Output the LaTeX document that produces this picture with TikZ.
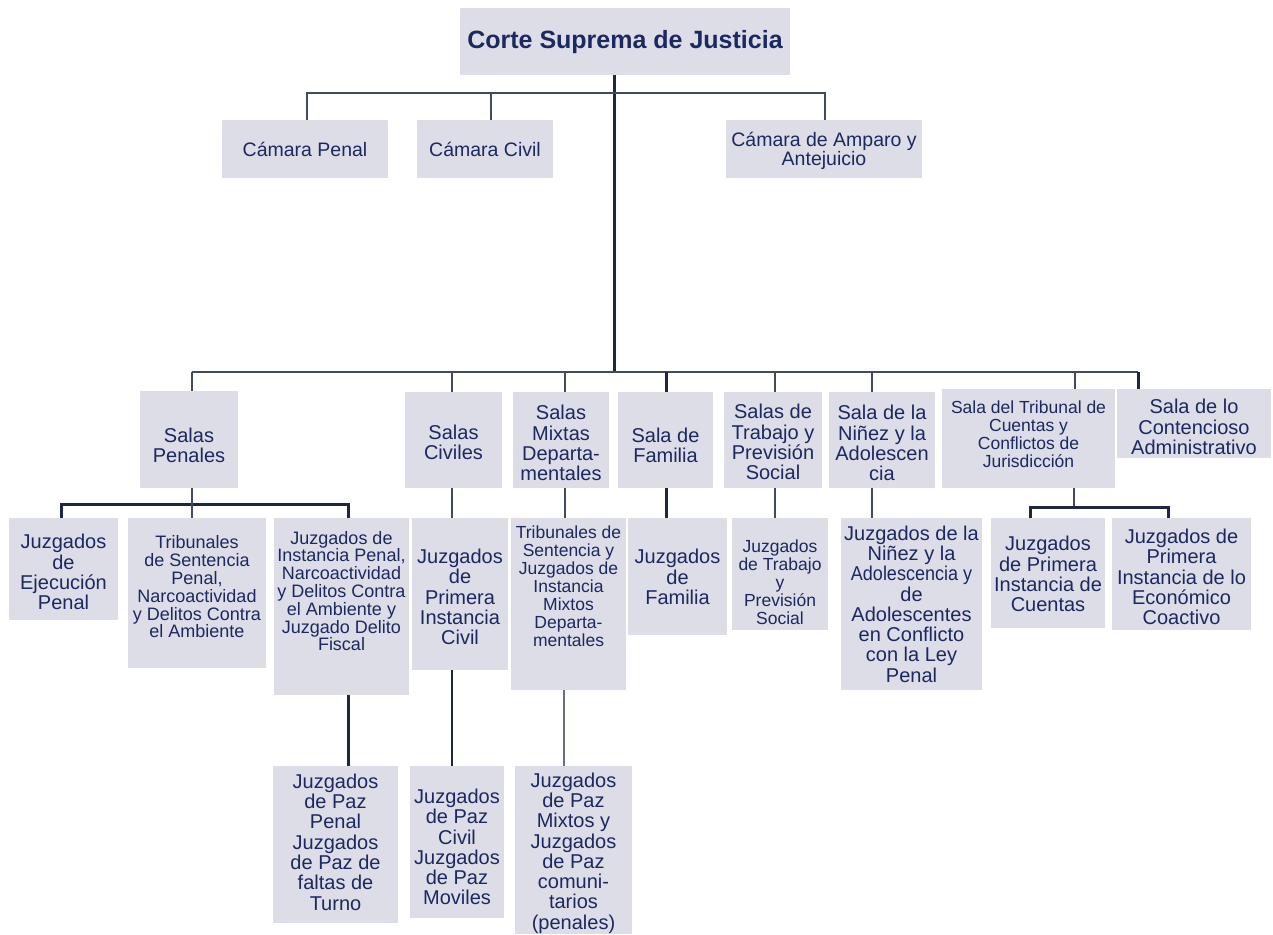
\documentclass[tikz,border=0pt]{standalone}
\usepackage{fontspec}
\setmainfont{Liberation Sans}
\usepackage{graphicx}
\definecolor{boxc}{RGB}{220,221,231}
\definecolor{txtc}{RGB}{28,40,96}
\definecolor{lnc}{RGB}{30,38,66}
\definecolor{lnl}{RGB}{66,74,98}
\newcommand\obox[8]{%
  \node[orgbox, minimum width={(#4-#2)*1pt}, minimum height={(#5-#3)*1pt}] (#1) at ({(#2+#4)/2},{(#3+#5)/2}) {};
  \node[#7] (#1-t) at ({(#2+#4)/2},#6) {#8};
}
\tikzset{
  orgbox/.style={rectangle, fill=boxc, draw=none, inner sep=0pt, outer sep=0pt},
  tx/.style={align=center, text=txtc, inner sep=0pt},
  fA/.style={tx, font=\fontsize{20}{20.3}\selectfont},
  fB/.style={tx, font=\fontsize{18}{17.8}\selectfont},
  fC/.style={tx, font=\fontsize{17.5}{18}\selectfont},
  fT/.style={tx, font=\fontsize{19.5}{19.5}\selectfont},
  fH/.style={tx, font=\bfseries\fontsize{25}{25}\selectfont},
  thn/.style={draw=lnl, line width=1.8pt},
  thk/.style={draw=lnc, line width=3pt},
}
\begin{document}
\begin{tikzpicture}[x=1pt,y=-1pt]
\useasboundingbox (0,0) rectangle (1273,934);
\fill[white] (0,0) rectangle (1273,934);

% boxes
\obox{corte}{460}{8}{790}{75}{42}{fH}{Corte Suprema de Justicia}
\obox{cpenal}{222}{120}{388}{178}{149}{fT}{Cámara Penal}
\obox{ccivil}{417}{120}{553}{178}{149}{fT}{Cámara Civil}
\obox{camparo}{726}{120}{922}{178}{151}{fT}{Cámara de Amparo y\\Antejuicio}

\obox{spen}{140}{391}{238}{488}{445}{fA}{Salas\\Penales}
\obox{sciv}{405}{392}{502}{488}{442}{fA}{Salas\\Civiles}
\obox{smix}{513}{392}{609}{488}{443}{fA}{Salas\\Mixtas\\Departa-\\mentales}
\obox{sfam}{618}{392}{713}{488}{445}{fA}{Sala de\\Familia}
\obox{strab}{724}{392}{822}{488}{442}{fA}{Salas de\\Trabajo y\\Previsión\\Social}
\obox{snin}{829}{392}{935}{488}{443}{fA}{Sala de la\\Niñez y la\\Adolescen\\cia}
\obox{strib}{942}{389}{1115}{488}{434}{fC}{Sala del Tribunal de\\Cuentas y\\Conflictos de\\Jurisdicción}
\obox{scont}{1117}{389}{1271}{458}{427}{fA}{Sala de lo\\Contencioso\\Administrativo}

\obox{jejec}{9}{518}{118}{620}{572}{fA}{Juzgados\\de\\Ejecución\\Penal}
\obox{tsent}{128}{518}{266}{668}{587}{fB}{Tribunales\\de Sentencia\\Penal,\\Narcoactividad\\y Delitos Contra\\el Ambiente}
\obox{jinst}{274}{518}{409}{695}{591}{fB}{Juzgados de\\Instancia Penal,\\Narcoactividad\\y Delitos Contra\\el Ambiente y\\Juzgado Delito\\Fiscal}
\obox{jpic}{412}{518}{508}{670}{597}{fA}{Juzgados\\de\\Primera\\Instancia\\Civil}
\obox{tsmix}{511}{518}{626}{690}{586}{fC}{Tribunales de\\Sentencia y\\Juzgados de\\Instancia\\Mixtos\\Departa-\\mentales}
\obox{jfam}{628}{518}{727}{635}{577}{fA}{Juzgados\\de\\Familia}
\obox{jtrab}{732}{518}{828}{630}{582}{fC}{Juzgados\\de Trabajo\\y\\Previsión\\Social}
\obox{jnin}{841}{518}{982}{690}{604}{fA}{Juzgados de la\\Niñez y la\\\scalebox{0.9}[1]{Adolescencia y}\\de\\Adolescentes\\en Conflicto\\con la Ley\\Penal}
\obox{jcuen}{991}{518}{1105}{628}{574}{fA}{Juzgados\\de Primera\\Instancia de\\Cuentas}
\obox{jecon}{1112}{518}{1251}{630}{577}{fA}{Juzgados de\\Primera\\Instancia de lo\\Económico\\Coactivo}

\obox{jpazp}{273}{766}{398}{923}{842}{fA}{Juzgados\\de Paz\\Penal\\Juzgados\\de Paz de\\faltas de\\Turno}
\obox{jpazc}{410}{766}{504}{918}{847}{fA}{Juzgados\\de Paz\\Civil\\Juzgados\\de Paz\\Moviles}
\obox{jpazm}{515}{766}{632}{934}{853}{fA}{Juzgados\\de Paz\\Mixtos y\\Juzgados\\de Paz\\comuni-\\tarios\\(penales)}

% hub coordinates
\coordinate (top) at (614,93);
\coordinate (hub) at (614,372);

% top level
\draw[thk] (top |- corte.south) -- (hub);
\draw[thn] ([xshift=2pt]cpenal.north) -- ++(0,-27) -| ([xshift=1pt]camparo.north);
\draw[thn] ([xshift=6pt]ccivil.north) -- ++(0,-27);

% main bar
\coordinate (d1) at (192,372);
\coordinate (d2) at (452,372);
\coordinate (d3) at (565,372);
\coordinate (d4) at (666,372);
\coordinate (d5) at (775,372);
\coordinate (d6) at (872,372);
\coordinate (d7) at (1075,372);
\coordinate (d8) at (1138,372);
\draw[thn] (d1) -- (d8);
\draw[thn] (d1) -- (d1 |- spen.north);
\draw[thn] (d2) -- (d2 |- sciv.north);
\draw[thn] (d3) -- (d3 |- smix.north);
\draw[thk] (d4) -- (d4 |- sfam.north);
\draw[thn] (d5) -- (d5 |- strab.north);
\draw[thn] (d6) -- (d6 |- snin.north);
\draw[thn] (d7) -- (d7 |- strib.north);
\draw[thk] (d8) -- (d8 |- scont.north);

% Salas Penales bracket
\draw[thk] ([xshift=-2.5pt]jejec.north) -- ++(0,-14) -| ([xshift=6.5pt]jinst.north);
\draw[thn] ([xshift=3pt]spen.south) -- ([xshift=3pt]spen.south |- tsent.north);

% single drops
\draw[thn] ([xshift=-1.5pt]sciv.south) -- ([xshift=-1.5pt]sciv.south |- jpic.north);
\draw[thn] ([xshift=4pt]smix.south) -- ([xshift=4pt]smix.south |- tsmix.north);
\draw[thk] ([xshift=0.5pt]sfam.south) -- ([xshift=0.5pt]sfam.south |- jfam.north);
\draw[thn] ([xshift=2pt]strab.south) -- ([xshift=2pt]strab.south |- jtrab.north);
\draw[thn] ([xshift=-10pt]snin.south) -- ([xshift=-10pt]snin.south |- jnin.north);

% Tribunal bracket
\draw[thn] ([xshift=45.5pt]strib.south) -- ++(0,19);
\draw[thk] ([xshift=-18pt]jcuen.north) -- ++(0,-11) -| ([xshift=-13.5pt]jecon.north);

% third level
\draw[thk] ([xshift=6.5pt]jinst.south) -- ([xshift=6.5pt]jinst.south |- jpazp.north);
\draw[thk, line width=2.4pt] ([xshift=-8pt]jpic.south) -- ([xshift=-8pt]jpic.south |- jpazc.north);
\draw[thn, draw=lnl!80] ([xshift=-4.5pt]tsmix.south) -- ([xshift=-4.5pt]tsmix.south |- jpazm.north);
\end{tikzpicture}
\end{document}
